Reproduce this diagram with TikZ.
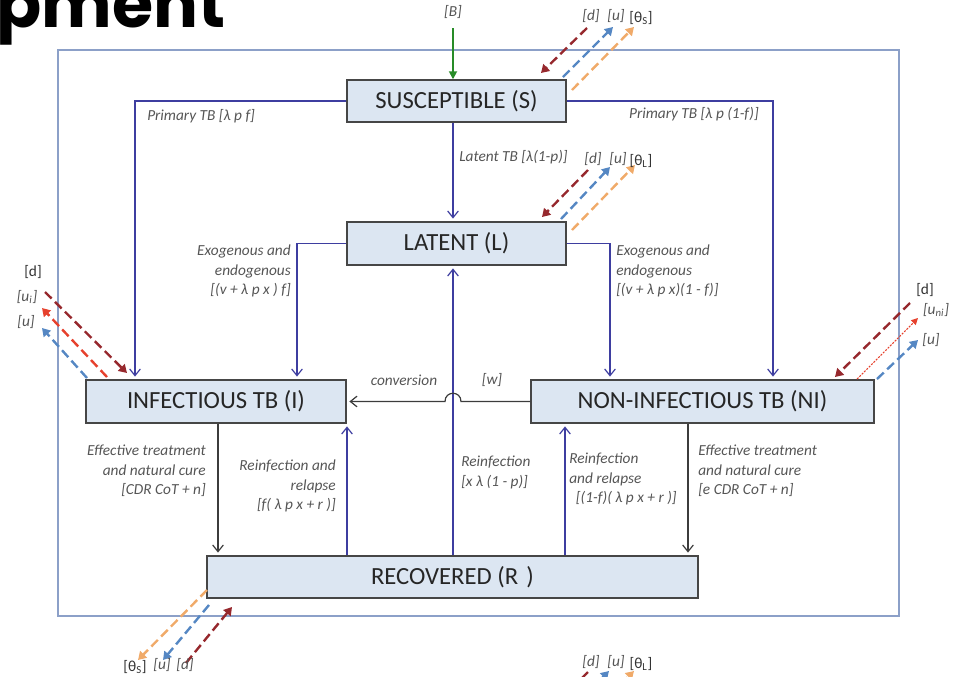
\documentclass[tikz,border=0pt]{standalone}
\usepackage{fontspec}
\setmainfont{Carlito}
\newfontfamily\popfont{Poppins}
\usetikzlibrary{arrows.meta,calc}
\definecolor{navyarr}{RGB}{62,62,160}
\definecolor{darkarr}{RGB}{60,60,60}
\definecolor{boxfill}{RGB}{220,230,242}
\definecolor{boxborder}{RGB}{70,70,70}
\definecolor{labgray}{RGB}{85,85,85}
\definecolor{framecol}{RGB}{140,160,200}
\definecolor{dred}{RGB}{150,40,45}
\definecolor{lred}{RGB}{230,65,45}
\definecolor{dblue}{RGB}{85,135,195}
\definecolor{dorange}{RGB}{240,170,105}
\definecolor{dgreen}{RGB}{40,140,40}
\begin{document}
\begin{tikzpicture}[x=0.75pt,y=-0.75pt,
  box/.style={draw=boxborder,fill=boxfill,line width=1.1pt,inner sep=0pt,
    font=\fontsize{18.5}{20}\selectfont,text=black!85},
  lab/.style={font=\fontsize{11.5}{14.6}\selectfont\itshape,text=labgray,inner sep=0pt},
  labup/.style={font=\fontsize{11.5}{13}\selectfont,text=black!80,inner sep=0pt},
  navy/.style={draw=navyarr,line width=0.9pt,-{Straight Barb[length=5pt,width=8pt]},shorten >=2pt},
  dark/.style={draw=darkarr,line width=0.9pt,-{Straight Barb[length=5pt,width=8pt]},shorten >=2pt},
  dsh/.style={line width=1.8pt,dash pattern=on 7pt off 3.5pt,-{Triangle[length=6pt,width=7pt]}},
]
\useasboundingbox (0,0) rectangle (961,676);
\clip (0,0) rectangle (961,676);

% title fragment
\node[anchor=base west,inner sep=0pt,font=\popfont\bfseries\fontsize{50}{50}\selectfont] (title) at (-4,27) {pment};

% frame
\draw[framecol,line width=1pt] (58,50) rectangle (899,616);

% boxes
\node[box,minimum width=164.25pt,minimum height=31.5pt] (S) at (456.5,101) {SUSCEPTIBLE (S)};
\node[box,minimum width=164.25pt,minimum height=32.25pt] (L) at (456.5,243.5) {LATENT (L)};
\node[box,minimum width=195pt,minimum height=32.25pt] (I) at (216,401.5) {INFECTIOUS TB (I)};
\node[box,minimum width=257.25pt,minimum height=32.25pt] (NI) at (702.5,401.5) {NON-INFECTIOUS TB (NI)};
\node[box,minimum width=368.25pt,minimum height=31.5pt] (R) at (452.5,577) {RECOVERED (R\,\,)};

% x positions of vertical connectors
\coordinate (cx) at (453,0);
\coordinate (xa) at (135,0);
\coordinate (xb) at (773,0);
\coordinate (xc) at (297,0);
\coordinate (xd) at (610,0);
\coordinate (xe) at (218,0);
\coordinate (xf) at (347,0);
\coordinate (xg) at (565,0);
\coordinate (xh) at (688,0);

% B inflow
\coordinate (Bsrc) at (453,28);
\node[lab] (Blab) at (453,12) {[B]};
\draw[dgreen,line width=1.3pt,-{Triangle[length=6pt,width=6pt]}] (Bsrc) -- (cx |- S.north);

% main connectors
\draw[navy] (cx |- S.south) -- (cx |- L.north);
\draw[navy] (S.west) -| (I.north -| xa);
\draw[navy] (S.east) -| (NI.north -| xb);
\draw[navy] (L.west) -| (I.north -| xc);
\draw[navy] (L.east) -| (NI.north -| xd);
\draw[navy] (cx |- R.north) -- (cx |- L.south);
\draw[navy] (R.north -| xf) -- (I.south -| xf);
\draw[navy] (R.north -| xg) -- (NI.south -| xg);
\draw[dark] (I.south -| xe) -- (R.north -| xe);
\draw[dark] (NI.south -| xh) -- (R.north -| xh);
\coordinate (h1) at (461,401.5);
\coordinate (h2) at (445,401.5);
\draw[dark] (NI.west) -- (h1) .. controls +(0,-11) and +(0,-11) .. (h2) -- (I.east);

% labels
\node[lab,anchor=west] (l1) at (147,116) {Primary TB [λ p f]};
\node[lab,anchor=west] (l2) at (459,157) {Latent TB [λ(1-p)]};
\node[lab,anchor=east] (l3) at (759,114) {Primary TB [λ p (1-f)]};
\node[lab,anchor=north east,align=right] (l4) at (291,245) {Exogenous and\\endogenous\\{}[(v + λ p x ) f]};
\node[lab,anchor=north west,align=left] (l5) at (616,245) {Exogenous and\\endogenous\\{}[(v + λ p x)(1 - f)]};
\node[lab] (l6) at (404,380) {conversion};
\node[lab] (l7) at (492,380) {[w]};
\node[lab,anchor=north east,align=right] (l8) at (206,445) {Effective treatment\\and natural cure\\{}[CDR CoT + n]};
\node[lab,anchor=north east,align=right] (l9) at (336,460) {Reinfection and\\relapse\\{}[f( λ p x + r )]};
\node[lab,anchor=north west,align=left] (l10) at (461,456) {Reinfection\\{}[x λ (1 - p)]};
\node[lab,anchor=north west,align=left] (l11) at (569,453) {Reinfection\\and relapse\\\hspace*{5pt}[(1-f)( λ p x + r )]};
\node[lab,anchor=north west,align=left] (l12) at (698,445) {Effective treatment\\and natural cure\\{}[e CDR CoT + n]};

% dashed flows: susceptible
\coordinate (sd1) at (587,28); \coordinate (sd2) at (541,73);
\coordinate (su1) at (563,77); \coordinate (su2) at (613,27);
\coordinate (st1) at (572,90); \coordinate (st2) at (634,27);
\draw[dsh,dred] (sd1) -- (sd2);
\draw[dsh,dblue] (su1) -- (su2);
\draw[dsh,dorange] (st1) -- (st2);
\node[lab] (sdl) at (591,16) {[d]};
\node[lab] (sul) at (616,16) {[u]};
\node[labup] (stl) at (641,18) {[θ\textsubscript{S}]};

% latent
\coordinate (ld1) at (588,170); \coordinate (ld2) at (542,217);
\coordinate (lu1) at (561,219); \coordinate (lu2) at (610,167);
\coordinate (lt1) at (572,230); \coordinate (lt2) at (635,165);
\draw[dsh,dred] (ld1) -- (ld2);
\draw[dsh,dblue] (lu1) -- (lu2);
\draw[dsh,dorange] (lt1) -- (lt2);
\node[lab] (ldl) at (593,159) {[d]};
\node[lab] (lul) at (618,159) {[u]};
\node[labup] (ltl) at (641,161) {[θ\textsubscript{L}]};

% infectious
\coordinate (id1) at (45,292); \coordinate (id2) at (127,373);
\coordinate (ir1) at (107,377); \coordinate (ir2) at (42,308);
\coordinate (iu1) at (87,378); \coordinate (iu2) at (42,328);
\draw[dsh,dred] (id1) -- (id2);
\draw[dsh,lred] (ir1) -- (ir2);
\draw[dsh,dblue] (iu1) -- (iu2);
\node[labup] (idl) at (33,272) {[d]};
\node[lab] (irl) at (27,297) {[u\textsubscript{i}]};
\node[lab] (iul) at (26,322) {[u]};

% non-infectious
\coordinate (nd1) at (910,303); \coordinate (nd2) at (835,377);
\coordinate (nr1) at (857,379); \coordinate (nr2) at (918,318);
\coordinate (nu1) at (877,379); \coordinate (nu2) at (918,340);
\draw[dsh,dred] (nd1) -- (nd2);
\draw[lred,line width=0.8pt,dash pattern=on 1.5pt off 1pt,-{Triangle[length=5pt,width=5pt]}] (nr1) -- (nr2);
\draw[dsh,dblue] (nu1) -- (nu2);
\node[labup] (ndl) at (925,290) {[d]};
\node[lab] (nrl) at (936,310) {[u\textsubscript{ni}]};
\node[lab] (nul) at (931,340) {[u]};

% recovered (left)
\coordinate (rt1) at (207,590); \coordinate (rt2) at (138,660);
\coordinate (ru1) at (209,605); \coordinate (ru2) at (163,660);
\coordinate (rd1) at (186,663); \coordinate (rd2) at (232,607);
\draw[dsh,dorange] (rt1) -- (rt2);
\draw[dsh,dblue] (ru1) -- (ru2);
\draw[dsh,dred] (rd1) -- (rd2);
\node[labup] (rtl) at (135,667) {[θ\textsubscript{S}]};
\node[lab] (rul) at (162,665) {[u]};
\node[lab] (rdl) at (185,665) {[d]};

% bottom right (cut off at the lower edge)
\coordinate (bd1) at (588,672); \coordinate (bd2) at (540,720);
\coordinate (bu1) at (560,720); \coordinate (bu2) at (609,671);
\coordinate (bt1) at (571,733); \coordinate (bt2) at (634,671);
\draw[dsh,dred] (bd1) -- (bd2);
\draw[dsh,dblue] (bu1) -- (bu2);
\draw[dsh,dorange] (bt1) -- (bt2);
\node[lab] (bdl) at (591,662) {[d]};
\node[lab] (bul) at (616,662) {[u]};
\node[labup] (btl) at (641,664) {[θ\textsubscript{L}]};
\end{tikzpicture}
\end{document}
